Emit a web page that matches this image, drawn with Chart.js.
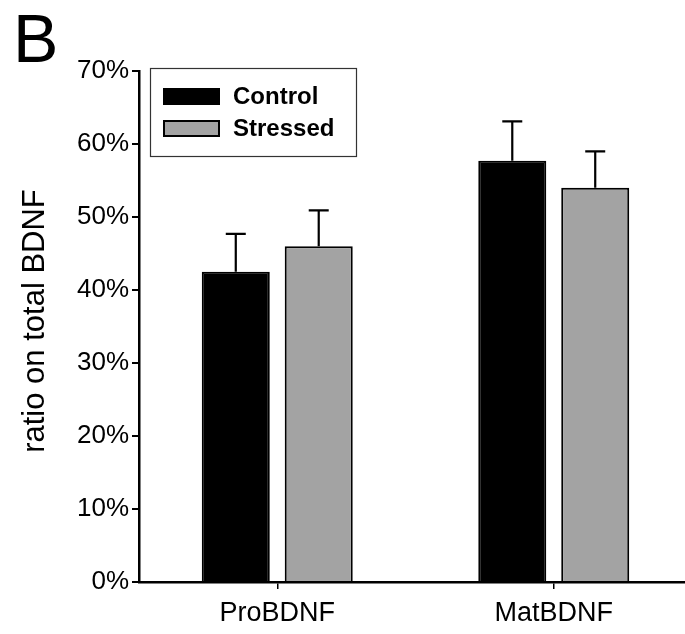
<!DOCTYPE html>
<html><head><meta charset="utf-8">
<script src="https://cdn.jsdelivr.net/npm/chart.js@4.4.0/dist/chart.umd.min.js"></script>
<style>html,body{margin:0;padding:0;background:#fff;overflow:hidden;width:685px;height:634px}#wrap{width:692px;height:634px;position:relative}</style>
</head><body><div id="wrap"><canvas id="c" width="692" height="634"></canvas></div>
<script>
const categories = ['ProBDNF', 'MatBDNF'];
const seriesNames = ['Control', 'Stressed'];
const controlValues = [42.5, 57.7];
const stressedValues = [46.0, 54.0];
const controlErrors = [5.2, 5.4];
const stressedErrors = [4.9, 5.0];
const yTicks = [0, 10, 20, 30, 40, 50, 60, 70];
const panelLabel = 'B';
const yTitle = 'ratio on total BDNF';

const FONT = '"Liberation Sans", Arial, sans-serif';

const errorBars = {
  id: 'errorBars',
  afterDatasetsDraw(chart) {
    const ctx = chart.ctx, ys = chart.scales.y;
    ctx.save();
    ctx.strokeStyle = '#000'; ctx.lineWidth = 2.2;
    chart.data.datasets.forEach((ds, i) => {
      const meta = chart.getDatasetMeta(i);
      meta.data.forEach((el, j) => {
        const top = ys.getPixelForValue(ds.data[j] + ds.errors[j]);
        ctx.beginPath();
        ctx.moveTo(el.x, el.y); ctx.lineTo(el.x, top);
        ctx.moveTo(el.x - 10, top); ctx.lineTo(el.x + 10, top);
        ctx.stroke();
      });
    });
    ctx.restore();
  }
};

const extras = {
  id: 'extras',
  afterDraw(chart) {
    const ctx = chart.ctx;
    ctx.save();
    ctx.fillStyle = '#000';
    ctx.font = '68px ' + FONT;
    ctx.textBaseline = 'alphabetic'; ctx.textAlign = 'left';
    ctx.fillText(panelLabel, 13, 62);
    // y axis title
    ctx.save();
    ctx.translate(44, 321);
    ctx.rotate(-Math.PI / 2);
    ctx.font = '31px ' + FONT;
    ctx.textAlign = 'center'; ctx.textBaseline = 'alphabetic';
    ctx.fillText(yTitle, 0, 0);
    ctx.restore();
    // legend
    ctx.strokeStyle = '#333'; ctx.lineWidth = 1.2;
    ctx.strokeRect(150.5, 68.5, 206, 88);
    chart.data.datasets.forEach((ds, i) => {
      const y = 88 + i * 32;
      ctx.fillStyle = ds.backgroundColor;
      ctx.fillRect(163, y, 57, 17);
      ctx.strokeStyle = '#000'; ctx.lineWidth = 2;
      ctx.strokeRect(164, y + 1, 55, 15);
      ctx.fillStyle = '#000';
      ctx.font = 'bold 24px ' + FONT;
      ctx.textBaseline = 'middle'; ctx.textAlign = 'left';
      ctx.fillText(ds.label, 233, y + 9);
    });
    ctx.restore();
  }
};

new Chart(document.getElementById('c'), {
  type: 'bar',
  data: {
    labels: categories,
    datasets: [
      { label: seriesNames[0], data: controlValues, errors: controlErrors, backgroundColor: '#000000', borderColor: '#000', borderWidth: 2, borderSkipped: 'bottom' },
      { label: seriesNames[1], data: stressedValues, errors: stressedErrors, backgroundColor: '#a3a3a3', borderColor: '#000', borderWidth: 2, borderSkipped: 'bottom' }
    ]
  },
  options: {
    responsive: false,
    animation: false,
    devicePixelRatio: 1,
    categoryPercentage: 0.6,
    barPercentage: 0.82,
    layout: { padding: { left: 0, top: 71, right: 0, bottom: 0 } },
    plugins: { legend: { display: false }, tooltip: { enabled: false } },
    scales: {
      x: {
        offset: true,
        afterFit(s) { s.height = 52; },
        grid: { display: true, drawOnChartArea: false, drawTicks: true, tickLength: 7, offset: false, color: '#000', lineWidth: 1.5 },
        border: { display: true, color: '#000', width: 2.5 },
        ticks: { color: '#000', font: { family: FONT, size: 27 }, padding: 8, maxRotation: 0 }
      },
      y: {
        min: 0, max: 70,
        afterFit(s) { s.width = 139; },
        afterBuildTicks(s) { s.ticks = yTicks.map(v => ({ value: v })); },
        grid: { display: true, drawOnChartArea: false, drawTicks: true, tickLength: 7, color: '#000', lineWidth: 2 },
        border: { display: true, color: '#000', width: 2.5 },
        ticks: { color: '#000', font: { family: FONT, size: 26 }, padding: 3, callback: v => v + '%' },
        title: { display: false }
      }
    }
  },
  plugins: [errorBars, extras]
});
</script></body></html>
